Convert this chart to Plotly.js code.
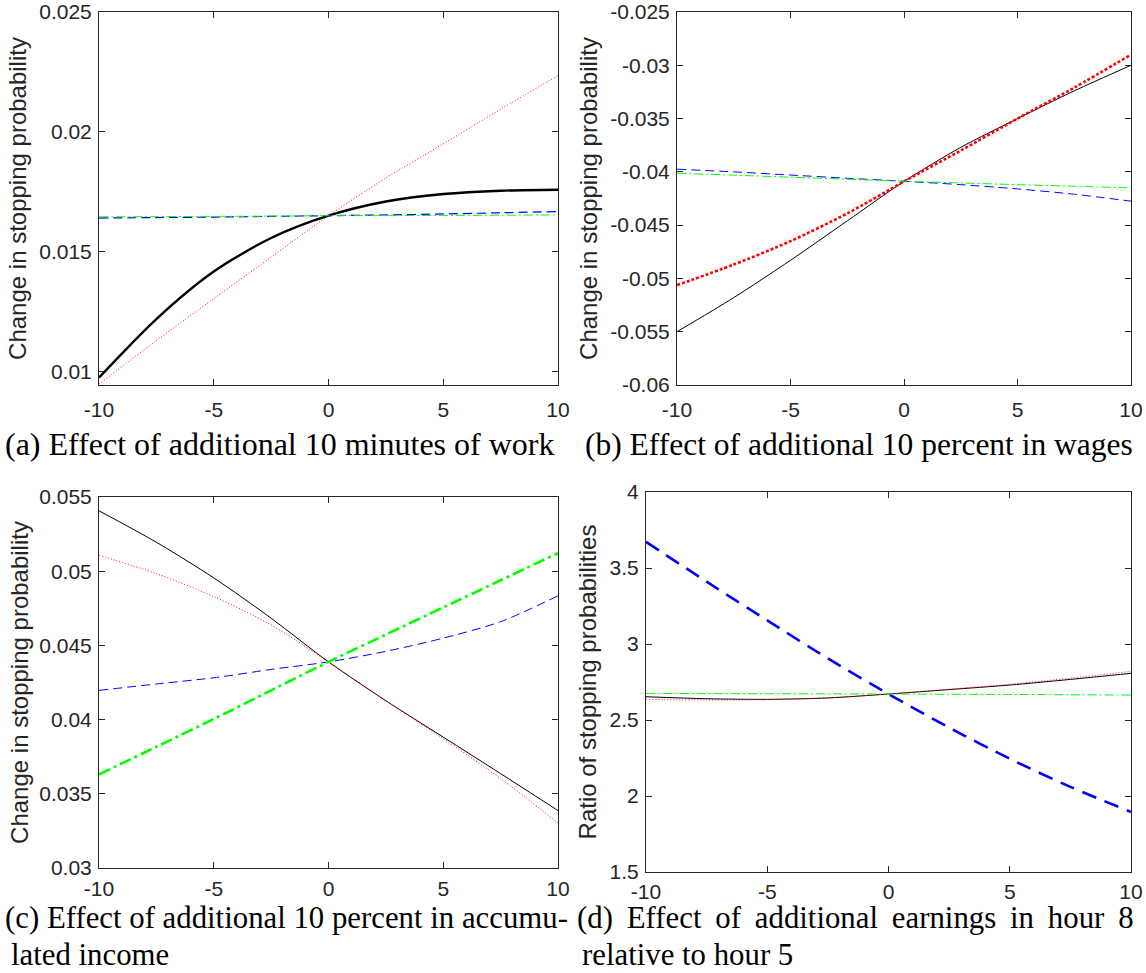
<!DOCTYPE html>
<html><head><meta charset="utf-8">
<script src="https://cdn.plot.ly/plotly-3.0.1.min.js"></script>
<style>html,body{margin:0;padding:0;background:#fff;}</style>
</head><body>
<div id="chart" style="width:1146px;height:973px;"></div>
<script>
// ---------- data ----------
const xValues = [-10, -7.5, -5, -2.5, 0, 2.5, 5, 7.5, 10];
const xTickVals = [-10, -5, 0, 5, 10];
const xTickText = ['-10', '-5', '0', '5', '10'];

// (a) Effect of additional 10 minutes of work
const aBlack = [0.00976, 0.01220, 0.01418, 0.01558, 0.01651, 0.01710, 0.01741, 0.01755, 0.01759];
const aRed   = [0.00949, 0.01130, 0.01305, 0.01478, 0.01651, 0.01808, 0.01950, 0.02095, 0.02235];
const aBlue  = [0.01641, 0.01643, 0.01645, 0.01648, 0.01651, 0.01654, 0.01658, 0.01663, 0.01668];
const aGreen = [0.01646, 0.01647, 0.01648, 0.01649, 0.01651, 0.01651, 0.01652, 0.01653, 0.01654];
const aYTickVals = [0.01, 0.015, 0.02, 0.025];
const aYTickText = ['0.01', '0.015', '0.02', '0.025'];

// (b) Effect of additional 10 percent in wages
const bBlack = [-0.0550, -0.0518, -0.0483, -0.0446, -0.0409, -0.0377, -0.0350, -0.0324, -0.0300];
const bRed   = [-0.05063, -0.0487, -0.0465, -0.0439, -0.0409, -0.0380, -0.0350, -0.0321, -0.0290];
const bBlue  = [-0.03975, -0.0400, -0.0403, -0.0406, -0.04088, -0.0412, -0.0416, -0.0421, -0.04275];
const bGreen = [-0.04013, -0.04031, -0.0405, -0.04069, -0.04088, -0.04104, -0.0412, -0.04135, -0.0415];
const bYTickVals = [-0.06, -0.055, -0.05, -0.045, -0.04, -0.035, -0.03, -0.025];
const bYTickText = ['-0.06', '-0.055', '-0.05', '-0.045', '-0.04', '-0.035', '-0.03', '-0.025'];

// (c) Effect of additional 10 percent in accumulated income
const cBlack = [0.05407, 0.05195, 0.04955, 0.04683, 0.04389, 0.04127, 0.03882, 0.03636, 0.03387];
const cRed   = [0.05107, 0.04984, 0.04829, 0.04638, 0.04389, 0.04127, 0.03871, 0.03603, 0.03303];
const cBlue  = [0.04197, 0.04240, 0.04282, 0.04338, 0.04389, 0.04460, 0.04549, 0.04660, 0.04834];
const cGreen = [0.03630, 0.03817, 0.04004, 0.04197, 0.04389, 0.04573, 0.04756, 0.04939, 0.05122];
const cYTickVals = [0.03, 0.035, 0.04, 0.045, 0.05, 0.055];
const cYTickText = ['0.03', '0.035', '0.04', '0.045', '0.05', '0.055'];

// (d) Effect of additional earnings in hour 8 relative to hour 5
const dBlack = [2.653, 2.640, 2.636, 2.645, 2.671, 2.700, 2.730, 2.767, 2.807];
const dRed   = [2.636, 2.632, 2.634, 2.646, 2.671, 2.703, 2.735, 2.775, 2.820];
const dBlue  = [3.672, 3.410, 3.155, 2.905, 2.671, 2.450, 2.245, 2.060, 1.895];
const dGreen = [2.675, 2.674, 2.673, 2.672, 2.671, 2.669, 2.668, 2.666, 2.664];
const dYTickVals = [1.5, 2, 2.5, 3, 3.5, 4];
const dYTickText = ['1.5', '2', '2.5', '3', '3.5', '4'];

const yTitleStop = 'Change in stopping probability';
const yTitleRatio = 'Ratio of stopping probabilities';
const captionA = '(a) Effect of additional 10 minutes of work';
const captionB = '(b) Effect of additional 10 percent in wages';
const captionC1 = '(c) Effect of additional 10 percent in accumu-';
const captionC2 = 'lated income';
const captionD1 = '(d) Effect of additional earnings in hour 8';
const captionD2 = 'relative to hour 5';

// ---------- layout helpers ----------
const W = 1146, H = 973;
function xdom(x0, x1) { return [x0 / W, x1 / W]; }
function ydom(yTop, yBot) { return [1 - yBot / H, 1 - yTop / H]; }

const DASH = {
  dotThin: '1px,2px', dotThick: '3px,2px',
  dashThin: '9px,5px', dashThick: '15px,9px',
  dashdotThin: '9px,3px,2px,3px', dashdotThick: '12px,4px,3px,4px'
};
const GREEN = '#00ff00', RED = '#ff0000', BLUE = '#0000ff', BLACK = '#000000';

function tr(y, ax, color, width, dash) {
  return {
    x: xValues, y: y, type: 'scatter', mode: 'lines',
    xaxis: 'x' + ax, yaxis: 'y' + ax,
    line: {color: color, width: width, dash: dash, shape: 'spline', smoothing: 0.8},
    hoverinfo: 'skip', showlegend: false
  };
}

const traces = [
  tr(aBlack, '', BLACK, 2.4, 'solid'),
  tr(aRed, '', RED, 1, DASH.dotThin),
  tr(aBlue, '', BLUE, 1.2, DASH.dashThin),
  tr(aGreen, '', GREEN, 1, DASH.dashdotThin),

  tr(bBlack, '2', BLACK, 1, 'solid'),
  tr(bRed, '2', RED, 2.6, DASH.dotThick),
  tr(bBlue, '2', BLUE, 1, DASH.dashThin),
  tr(bGreen, '2', GREEN, 1, DASH.dashdotThin),

  tr(cBlack, '3', BLACK, 1, 'solid'),
  tr(cRed, '3', RED, 1, DASH.dotThin),
  tr(cBlue, '3', BLUE, 1, DASH.dashThin),
  tr(cGreen, '3', GREEN, 2.6, DASH.dashdotThick),

  tr(dBlack, '4', BLACK, 1, 'solid'),
  tr(dRed, '4', RED, 1, DASH.dotThin),
  tr(dBlue, '4', BLUE, 2.6, DASH.dashThick),
  tr(dGreen, '4', GREEN, 1, DASH.dashdotThin)
];

const tickFont = {family: 'Liberation Sans, Arial, sans-serif', size: 21, color: '#262626'};
const titleFont = {family: 'Liberation Sans, Arial, sans-serif', size: 24, color: '#262626'};

function xAxis(dom, anchor, standoff) {
  return {
    domain: dom, anchor: anchor, range: [-10, 10],
    tickvals: xTickVals, ticktext: xTickText,
    ticks: 'inside', ticklen: 6, tickwidth: 1, tickcolor: '#262626',
    showline: true, linecolor: '#262626', linewidth: 1, mirror: 'allticks',
    showgrid: false, zeroline: false, tickfont: tickFont, automargin: false,
    ticklabelstandoff: standoff
  };
}
function yAxis(dom, anchor, range, tv, tt, title, standoff) {
  return {
    domain: dom, anchor: anchor, range: range,
    tickvals: tv, ticktext: tt,
    ticks: 'inside', ticklen: 6, tickwidth: 1, tickcolor: '#262626',
    showline: true, linecolor: '#262626', linewidth: 1, mirror: 'allticks',
    showgrid: false, zeroline: false, tickfont: tickFont, automargin: false,
    ticklabelstandoff: 2,
    title: {text: title, font: titleFont, standoff: standoff}
  };
}

function cap(text, px, py, size) {
  return {text: text, xref: 'paper', yref: 'paper', x: px / W, y: 1 - py / H,
          xanchor: 'left', yanchor: 'middle', showarrow: false,
          font: {family: 'Liberation Serif, Times New Roman, serif', size: size, color: '#000000'}};
}

const layout = {
  width: W, height: H,
  margin: {l: 0, r: 0, t: 0, b: 0, pad: 0},
  paper_bgcolor: '#ffffff', plot_bgcolor: '#ffffff',
  showlegend: false,
  xaxis: xAxis(xdom(99, 558), 'y', 6),
  yaxis: yAxis(ydom(12, 385), 'x', [0.00945, 0.025], aYTickVals, aYTickText, yTitleStop, 5),
  xaxis2: xAxis(xdom(677, 1131), 'y2', 6),
  yaxis2: yAxis(ydom(12, 385), 'x2', [-0.06, -0.025], bYTickVals, bYTickText, yTitleStop, 5),
  xaxis3: xAxis(xdom(99, 558), 'y3', 2),
  yaxis3: yAxis(ydom(497, 868), 'x3', [0.03, 0.055], cYTickVals, cYTickText, yTitleStop, 3),
  xaxis4: xAxis(xdom(646, 1131), 'y4', 1),
  yaxis4: yAxis(ydom(492, 872), 'x4', [1.5, 4], dYTickVals, dYTickText, yTitleRatio, 6),
  annotations: [
    cap(captionA, 3, 444, 32),
    cap(captionB, 583, 444, 31.5),
    cap(captionC1, 3, 918, 30.8),
    cap(captionC2, 9, 955, 30.8),
    cap(captionD1.split(' ').join(' \u2009'), 575, 918, 30.8),
    cap(captionD2, 580, 955, 30.8)
  ]
};

Plotly.newPlot('chart', traces, layout, {staticPlot: true, displayModeBar: false});
</script>
</body></html>
